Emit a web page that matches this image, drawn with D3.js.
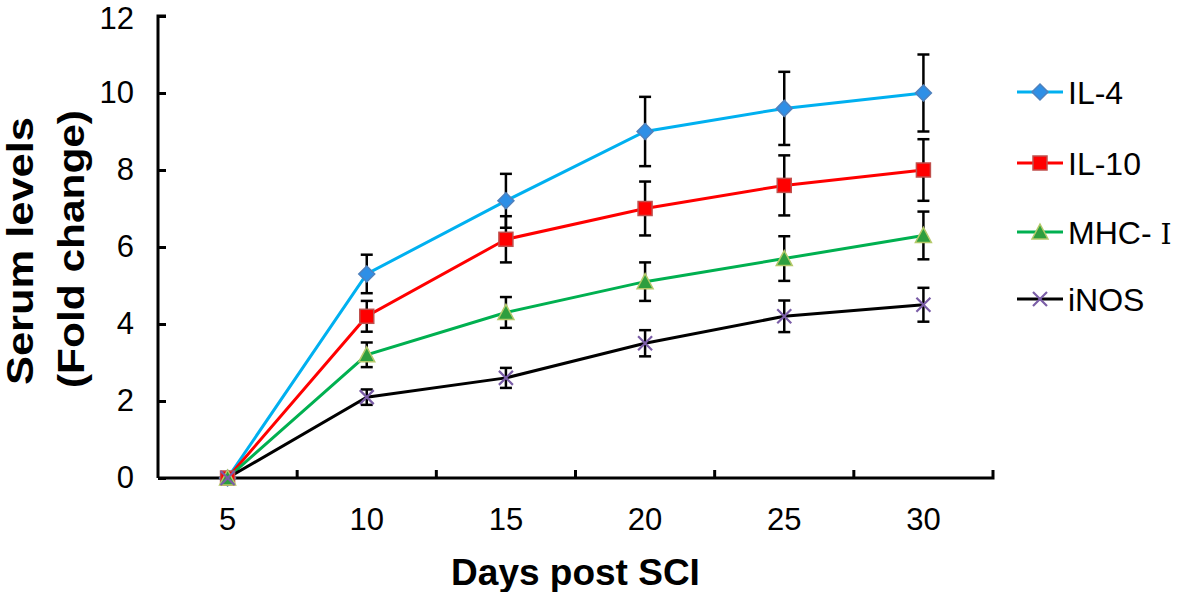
<!DOCTYPE html>
<html>
<head>
<meta charset="utf-8">
<script src="https://cdn.jsdelivr.net/npm/d3@7"></script>
<style>
  html, body { margin: 0; padding: 0; background: #fff; }
  svg { display: block; font-family: "Liberation Sans", Arial, sans-serif; }
</style>
</head>
<body>
<svg id="chart" width="1181" height="592"></svg>
<script>
// ---- data ----
const days = ["5", "10", "15", "20", "25", "30"];
const yTicks = [0, 2, 4, 6, 8, 10, 12];
const seriesNames = ["IL-4", "IL-10", "MHC- Ⅰ", "iNOS"];
const il4 = [0, 5.3, 7.2, 9.0, 9.6, 10.0];
const il4Err = [0, 0.5, 0.7, 0.9, 0.95, 1.0];
const il10 = [0, 4.2, 6.2, 7.0, 7.6, 8.0];
const il10Err = [0, 0.4, 0.6, 0.7, 0.78, 0.8];
const mhc = [0, 3.2, 4.3, 5.1, 5.7, 6.3];
const mhcErr = [0, 0.32, 0.4, 0.5, 0.58, 0.62];
const inos = [0, 2.1, 2.6, 3.5, 4.2, 4.5];
const inosErr = [0, 0.2, 0.26, 0.34, 0.41, 0.44];

const series = [
  { name: seriesNames[0], values: il4, err: il4Err, line: "#00B0F0", fill: "#2E8FE6", stroke: "#4F81BD", shape: "diamond" },
  { name: seriesNames[1], values: il10, err: il10Err, line: "#FF0000", fill: "#FF0000", stroke: "#C0504D", shape: "square" },
  { name: seriesNames[2], values: mhc, err: mhcErr, line: "#00B050", fill: "#2E9E3E", stroke: "#B5C96A", shape: "triangle" },
  { name: seriesNames[3], values: inos, err: inosErr, line: "#000000", fill: "none", stroke: "#7B5EA7", shape: "cross" }
];

const svg = d3.select("#chart");
const plotL = 158, plotR = 993, plotT = 16, plotB = 478;

const x = d3.scaleBand().domain(days).range([plotL, plotR]).padding(0);
const y = d3.scaleLinear().domain([0, 12]).range([plotB, plotT]);
const cx = d => x(d) + x.bandwidth() / 2;

// ---- axes ----
const yAxis = d3.axisLeft(y).tickValues(yTicks).tickSize(-8).tickPadding(24);
const gy = svg.append("g").attr("transform", `translate(${plotL},0)`).call(yAxis);
gy.select(".domain").attr("stroke", "#000").attr("stroke-width", 3).attr("d", `M8,${plotT}H0V${plotB}`);
gy.selectAll(".tick line").attr("stroke", "#000").attr("stroke-width", 3);
gy.selectAll(".tick text").attr("font-size", 31).attr("fill", "#000").attr("x", -24);
gy.selectAll(".tick").filter(d => d === 12).select("text").attr("dy", "0.40em");

const xAxis = d3.axisBottom(x).tickSize(0).tickPadding(30);
const gx = svg.append("g").attr("transform", `translate(0,${plotB})`).call(xAxis);
gx.select(".domain").attr("stroke", "#000").attr("stroke-width", 3).attr("d", `M${plotL},0H${plotR}V-8`);
gx.selectAll(".tick text").attr("font-size", 31).attr("fill", "#000");
// tick marks at category boundaries
const bounds = days.slice(1).map(d => x(d));
svg.append("g").selectAll("line").data(bounds).join("line")
  .attr("x1", d => d).attr("x2", d => d)
  .attr("y1", plotB).attr("y2", plotB - 8)
  .attr("stroke", "#000").attr("stroke-width", 3);

// ---- axis titles ----
svg.append("text").attr("x", (plotL + plotR) / 2).attr("y", 585)
  .attr("text-anchor", "middle").attr("font-size", 37).attr("font-weight", "bold")
  .text("Days post SCI");

svg.append("text").attr("transform", "translate(33,251) rotate(-90)")
  .attr("text-anchor", "middle").attr("font-size", 37).attr("font-weight", "bold")
  .attr("textLength", 268).attr("lengthAdjust", "spacingAndGlyphs")
  .text("Serum levels");
svg.append("text").attr("transform", "translate(84,249) rotate(-90)")
  .attr("text-anchor", "middle").attr("font-size", 37).attr("font-weight", "bold")
  .attr("textLength", 278).attr("lengthAdjust", "spacingAndGlyphs")
  .text("(Fold change)");

// ---- markers ----
function drawMarker(g, shape, fill, stroke) {
  if (shape === "diamond") {
    g.append("path").attr("d", "M0,-8L8,0L0,8L-8,0Z").attr("fill", fill).attr("stroke", stroke).attr("stroke-width", 1.5);
  } else if (shape === "square") {
    g.append("rect").attr("x", -7).attr("y", -7).attr("width", 14).attr("height", 14).attr("fill", fill).attr("stroke", stroke).attr("stroke-width", 1.5);
  } else if (shape === "triangle") {
    g.append("path").attr("d", "M0,-8L8,7L-8,7Z").attr("fill", fill).attr("stroke", stroke).attr("stroke-width", 1.5);
  } else {
    g.append("path").attr("d", "M-7,-7L7,7M-7,7L7,-7").attr("fill", "none").attr("stroke", stroke).attr("stroke-width", 2.2);
  }
}

const line = d3.line().x((v, i) => cx(days[i])).y(v => y(v));

series.forEach(s => {
  svg.append("path").datum(s.values).attr("d", line)
    .attr("fill", "none").attr("stroke", s.line).attr("stroke-width", 3);
});

series.forEach(s => {
  const eg = svg.append("g");
  s.values.forEach((v, i) => {
    if (s.err[i] <= 0) return;
    const px = cx(days[i]);
    const y1 = y(v + s.err[i]), y2 = y(v - s.err[i]);
    eg.append("line").attr("x1", px).attr("x2", px).attr("y1", y1).attr("y2", y2).attr("stroke", "#000").attr("stroke-width", 2.5);
    eg.append("line").attr("x1", px - 6).attr("x2", px + 6).attr("y1", y1).attr("y2", y1).attr("stroke", "#000").attr("stroke-width", 2.5);
    eg.append("line").attr("x1", px - 6).attr("x2", px + 6).attr("y1", y2).attr("y2", y2).attr("stroke", "#000").attr("stroke-width", 2.5);
  });
});

series.forEach(s => {
  s.values.forEach((v, i) => {
    const g = svg.append("g").attr("transform", `translate(${cx(days[i])},${y(v)})`);
    drawMarker(g, s.shape, s.fill, s.stroke);
  });
});

// ---- legend ----
const legendY = [92, 163, 232, 299];
series.forEach((s, i) => {
  const ly = legendY[i];
  svg.append("line").attr("x1", 1017).attr("x2", 1063).attr("y1", ly).attr("y2", ly)
    .attr("stroke", s.line).attr("stroke-width", 3);
  const g = svg.append("g").attr("transform", `translate(1040,${ly})`);
  drawMarker(g, s.shape, s.fill, s.stroke);
  const t = svg.append("text").attr("x", 1068).attr("y", ly).attr("dy", "0.36em")
    .attr("font-size", 32).attr("fill", "#000");
  const parts = s.name.split("Ⅰ");
  t.append("tspan").text(parts[0]);
  if (parts.length > 1) {
    t.append("tspan").attr("font-family", "'DejaVu Serif', serif").attr("font-size", 28).text("Ⅰ");
  }
});
</script>
</body>
</html>
